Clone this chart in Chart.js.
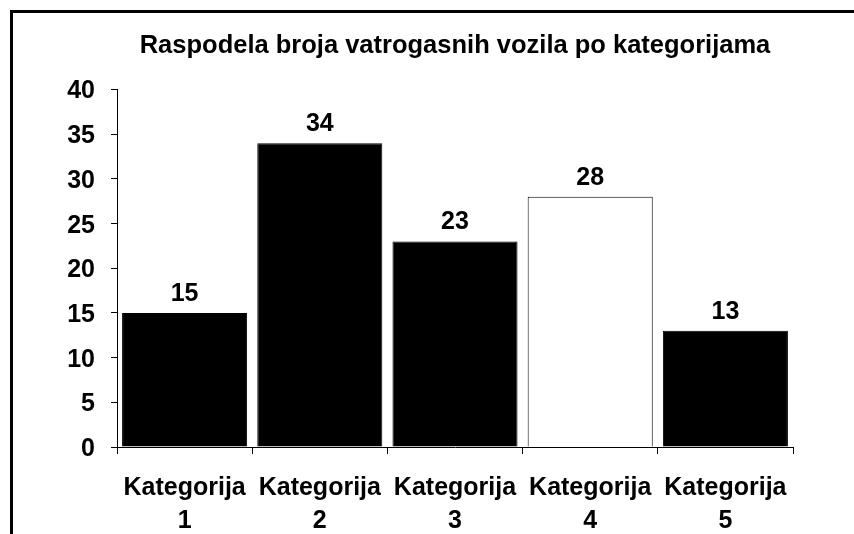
<!DOCTYPE html>
<html>
<head>
<meta charset="utf-8">
<script src="https://cdn.jsdelivr.net/npm/chart.js@4.4.0/dist/chart.umd.min.js"></script>
<style>
  html, body { margin: 0; padding: 0; background: #fff; overflow: hidden; }
  #wrap { position: relative; width: 854px; height: 534px; }
  #frame { position: absolute; left: 10px; top: 10px; width: 900px; height: 600px; border: 3px solid #000; box-sizing: border-box; }
  canvas { position: absolute; left: 0; top: 0; }
</style>
</head>
<body>
<div id="wrap">
  <div id="frame"></div>
  <canvas id="chart" width="854" height="534"></canvas>
</div>
<script>
const chartTitle = 'Raspodela broja vatrogasnih vozila po kategorijama';
const categories = [['Kategorija', '1'], ['Kategorija', '2'], ['Kategorija', '3'], ['Kategorija', '4'], ['Kategorija', '5']];
const vehicleCounts = [15, 34, 23, 28, 13];
const barColors = ['#000', '#000', '#000', '#fff', '#000'];

const FONT = '"Liberation Sans", Arial, sans-serif';

// draws the value above every bar
const valueLabels = {
    id: 'valueLabels',
    afterDatasetsDraw(chart) {
        const ctx = chart.ctx;
        const meta = chart.getDatasetMeta(0);
        ctx.save();
        ctx.font = 'bold 25px ' + FONT;
        ctx.fillStyle = '#000';
        ctx.textAlign = 'center';
        ctx.textBaseline = 'alphabetic';
        meta.data.forEach((bar, i) => {
            ctx.fillText(String(vehicleCounts[i]), bar.x, bar.y - 12);
        });
        ctx.restore();
    }
};

new Chart(document.getElementById('chart'), {
    type: 'bar',
    data: {
        labels: categories,
        datasets: [{
            data: vehicleCounts,
            backgroundColor: barColors,
            borderColor: '#000',
            borderWidth: 1,
            barPercentage: 0.925,
            categoryPercentage: 1
        }]
    },
    options: {
        responsive: false,
        animation: false,
        layout: { padding: { left: 0, right: 61, top: 0, bottom: 0 } },
        plugins: {
            legend: { display: false },
            tooltip: { enabled: false },
            title: {
                display: true,
                fullSize: false, // centre over the plot area, not the canvas
                text: chartTitle,
                color: '#000',
                font: { family: FONT, size: 25.5, weight: 'bold', lineHeight: 1.2 },
                padding: { top: 31, bottom: 28 }
            }
        },
        scales: {
            x: {
                offset: true,
                grid: { display: true, drawOnChartArea: false, offset: true, tickLength: 7, color: '#000', lineWidth: 1 },
                border: { display: true, color: '#000', width: 1 },
                ticks: {
                    color: '#000',
                    padding: 18,
                    maxRotation: 0,
                    font: { family: FONT, size: 25, weight: 'bold', lineHeight: 1.3 }
                },
                afterFit(scale) { scale.height = 87; }
            },
            y: {
                min: 0,
                max: 40,
                grid: { display: true, drawOnChartArea: false, tickLength: 6, color: '#000', lineWidth: 1 },
                border: { display: true, color: '#000', width: 1 },
                ticks: {
                    stepSize: 5,
                    color: '#000',
                    padding: 16,
                    labelOffset: 2,
                    font: { family: FONT, size: 25, weight: 'bold' }
                },
                afterFit(scale) { scale.width = 117; }
            }
        }
    },
    plugins: [valueLabels]
});
</script>
</body>
</html>
